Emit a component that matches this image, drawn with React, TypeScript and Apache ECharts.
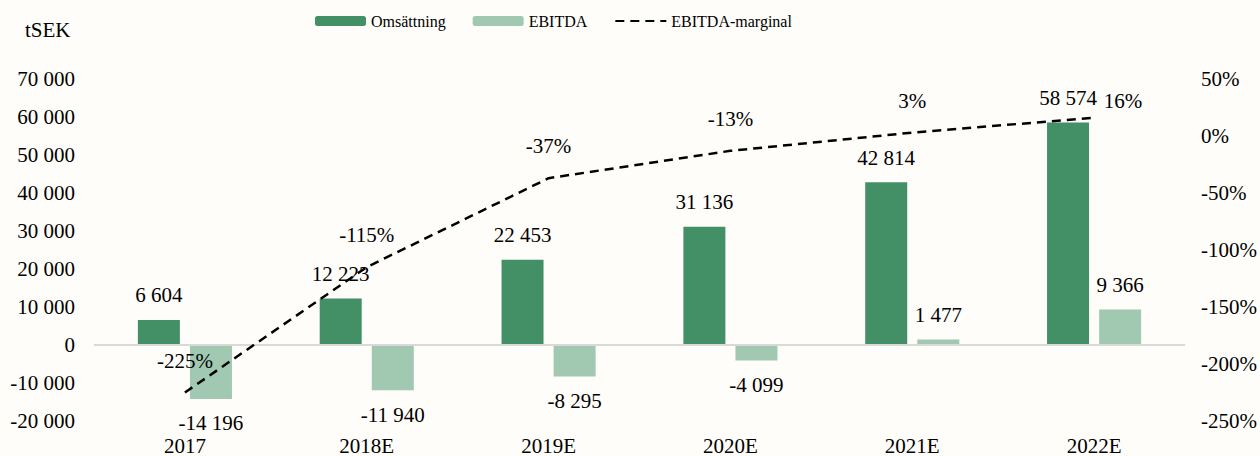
import React, { useEffect, useRef } from "react";
import * as echarts from "echarts";

const categories = ["2017", "2018E", "2019E", "2020E", "2021E", "2022E"];
const omsattning = [6604, 12223, 22453, 31136, 42814, 58574];
const ebitda = [-14196, -11940, -8295, -4099, 1477, 9366];
const marginal = [-225, -115, -37, -13, 3, 16];

const FONT = "'Liberation Serif', 'Times New Roman', serif";
const DARK = "#449066";
const LIGHT = "#a1c8b1";

const fmt = (v: number) => {
  const s = Math.abs(v).toString().replace(/\B(?=(\d{3})+(?!\d))/g, " ");
  return (v < 0 ? "-" : "") + s;
};

export default function App() {
  const ref = useRef<HTMLDivElement>(null);
  useEffect(() => {
    if (!ref.current) return;
    const chart = echarts.init(ref.current, undefined, { renderer: "svg" });
    const textStyle = { fontFamily: FONT, fontSize: 21, color: "#000" };
    chart.setOption({
      animation: false,
      backgroundColor: "#fefdf9",
      textStyle,
      legend: {
        left: 310,
        top: 8,
        itemWidth: 51,
        itemHeight: 10,
        itemGap: 27,
        textStyle: { fontFamily: FONT, fontSize: 16, color: "#000" },
        data: [
          "Omsättning",
          "EBITDA",
          { name: "EBITDA-marginal", itemStyle: { opacity: 0 } },
        ],
      },
      graphic: [
        {
          type: "text",
          left: 25,
          top: 19,
          style: { text: "tSEK", font: `21px ${FONT}`, fill: "#000" },
        },
      ],
      grid: { left: 94, right: 75, top: 79, bottom: 33, containLabel: false },
      xAxis: {
        type: "category",
        data: categories,
        axisLine: { show: false },
        axisTick: { show: false },
        axisLabel: { ...textStyle, margin: 14 },
      },
      yAxis: [
        {
          type: "value",
          min: -20000,
          max: 70000,
          interval: 10000,
          splitLine: { show: false },
          axisLine: { show: false },
          axisTick: { show: false },
          axisLabel: { ...textStyle, margin: 19, formatter: (v: number) => fmt(v) },
        },
        {
          type: "value",
          min: -250,
          max: 50,
          interval: 50,
          position: "right",
          splitLine: { show: false },
          axisLine: { show: false },
          axisTick: { show: false },
          axisLabel: { ...textStyle, margin: 16, formatter: (v: number) => v + "%" },
        },
      ],
      series: [
        {
          name: "Omsättning",
          type: "bar",
          barWidth: 42,
          barGap: "24%",
          itemStyle: { color: DARK },
          data: omsattning,
          label: {
            show: true,
            position: "top",
            distance: 14,
            ...textStyle,
            formatter: (p: any) => fmt(p.value),
          },
          markLine: {
            silent: true,
            symbol: "none",
            label: { show: false },
            lineStyle: { color: "#d9d9d9", width: 2, type: "solid" },
            data: [{ yAxis: 0 }],
          },
          z: 2,
        },
        {
          name: "EBITDA",
          type: "bar",
          barWidth: 42,
          itemStyle: { color: LIGHT },
          data: ebitda.map((v) => ({
            value: v,
            label: v < 0 ? { position: "bottom", distance: 14 } : { position: "top", distance: 14 },
          })),
          label: {
            show: true,
            ...textStyle,
            formatter: (p: any) => fmt(p.value),
          },
          z: 2,
        },
        {
          name: "EBITDA-marginal",
          type: "line",
          yAxisIndex: 1,
          symbol: "circle",
          symbolSize: 1,
          showSymbol: true,
          lineStyle: { color: "#000", width: 2.5, type: [9, 6] },
          itemStyle: { color: "rgba(0,0,0,0)" },
          data: marginal.map((v, i) => ({
            value: v,
            label: i === 5 ? { distance: 6, offset: [29, 0] } : undefined,
          })),
          label: {
            show: true,
            position: "top",
            distance: 21,
            ...textStyle,
            formatter: (p: any) => p.value + "%",
          },
          z: 5,
        },
      ],
    });
    return () => chart.dispose();
  }, []);
  return (
    <div
      ref={ref}
      style={{ position: "absolute", left: 0, top: 0, width: 1260, height: 456 }}
    />
  );
}
